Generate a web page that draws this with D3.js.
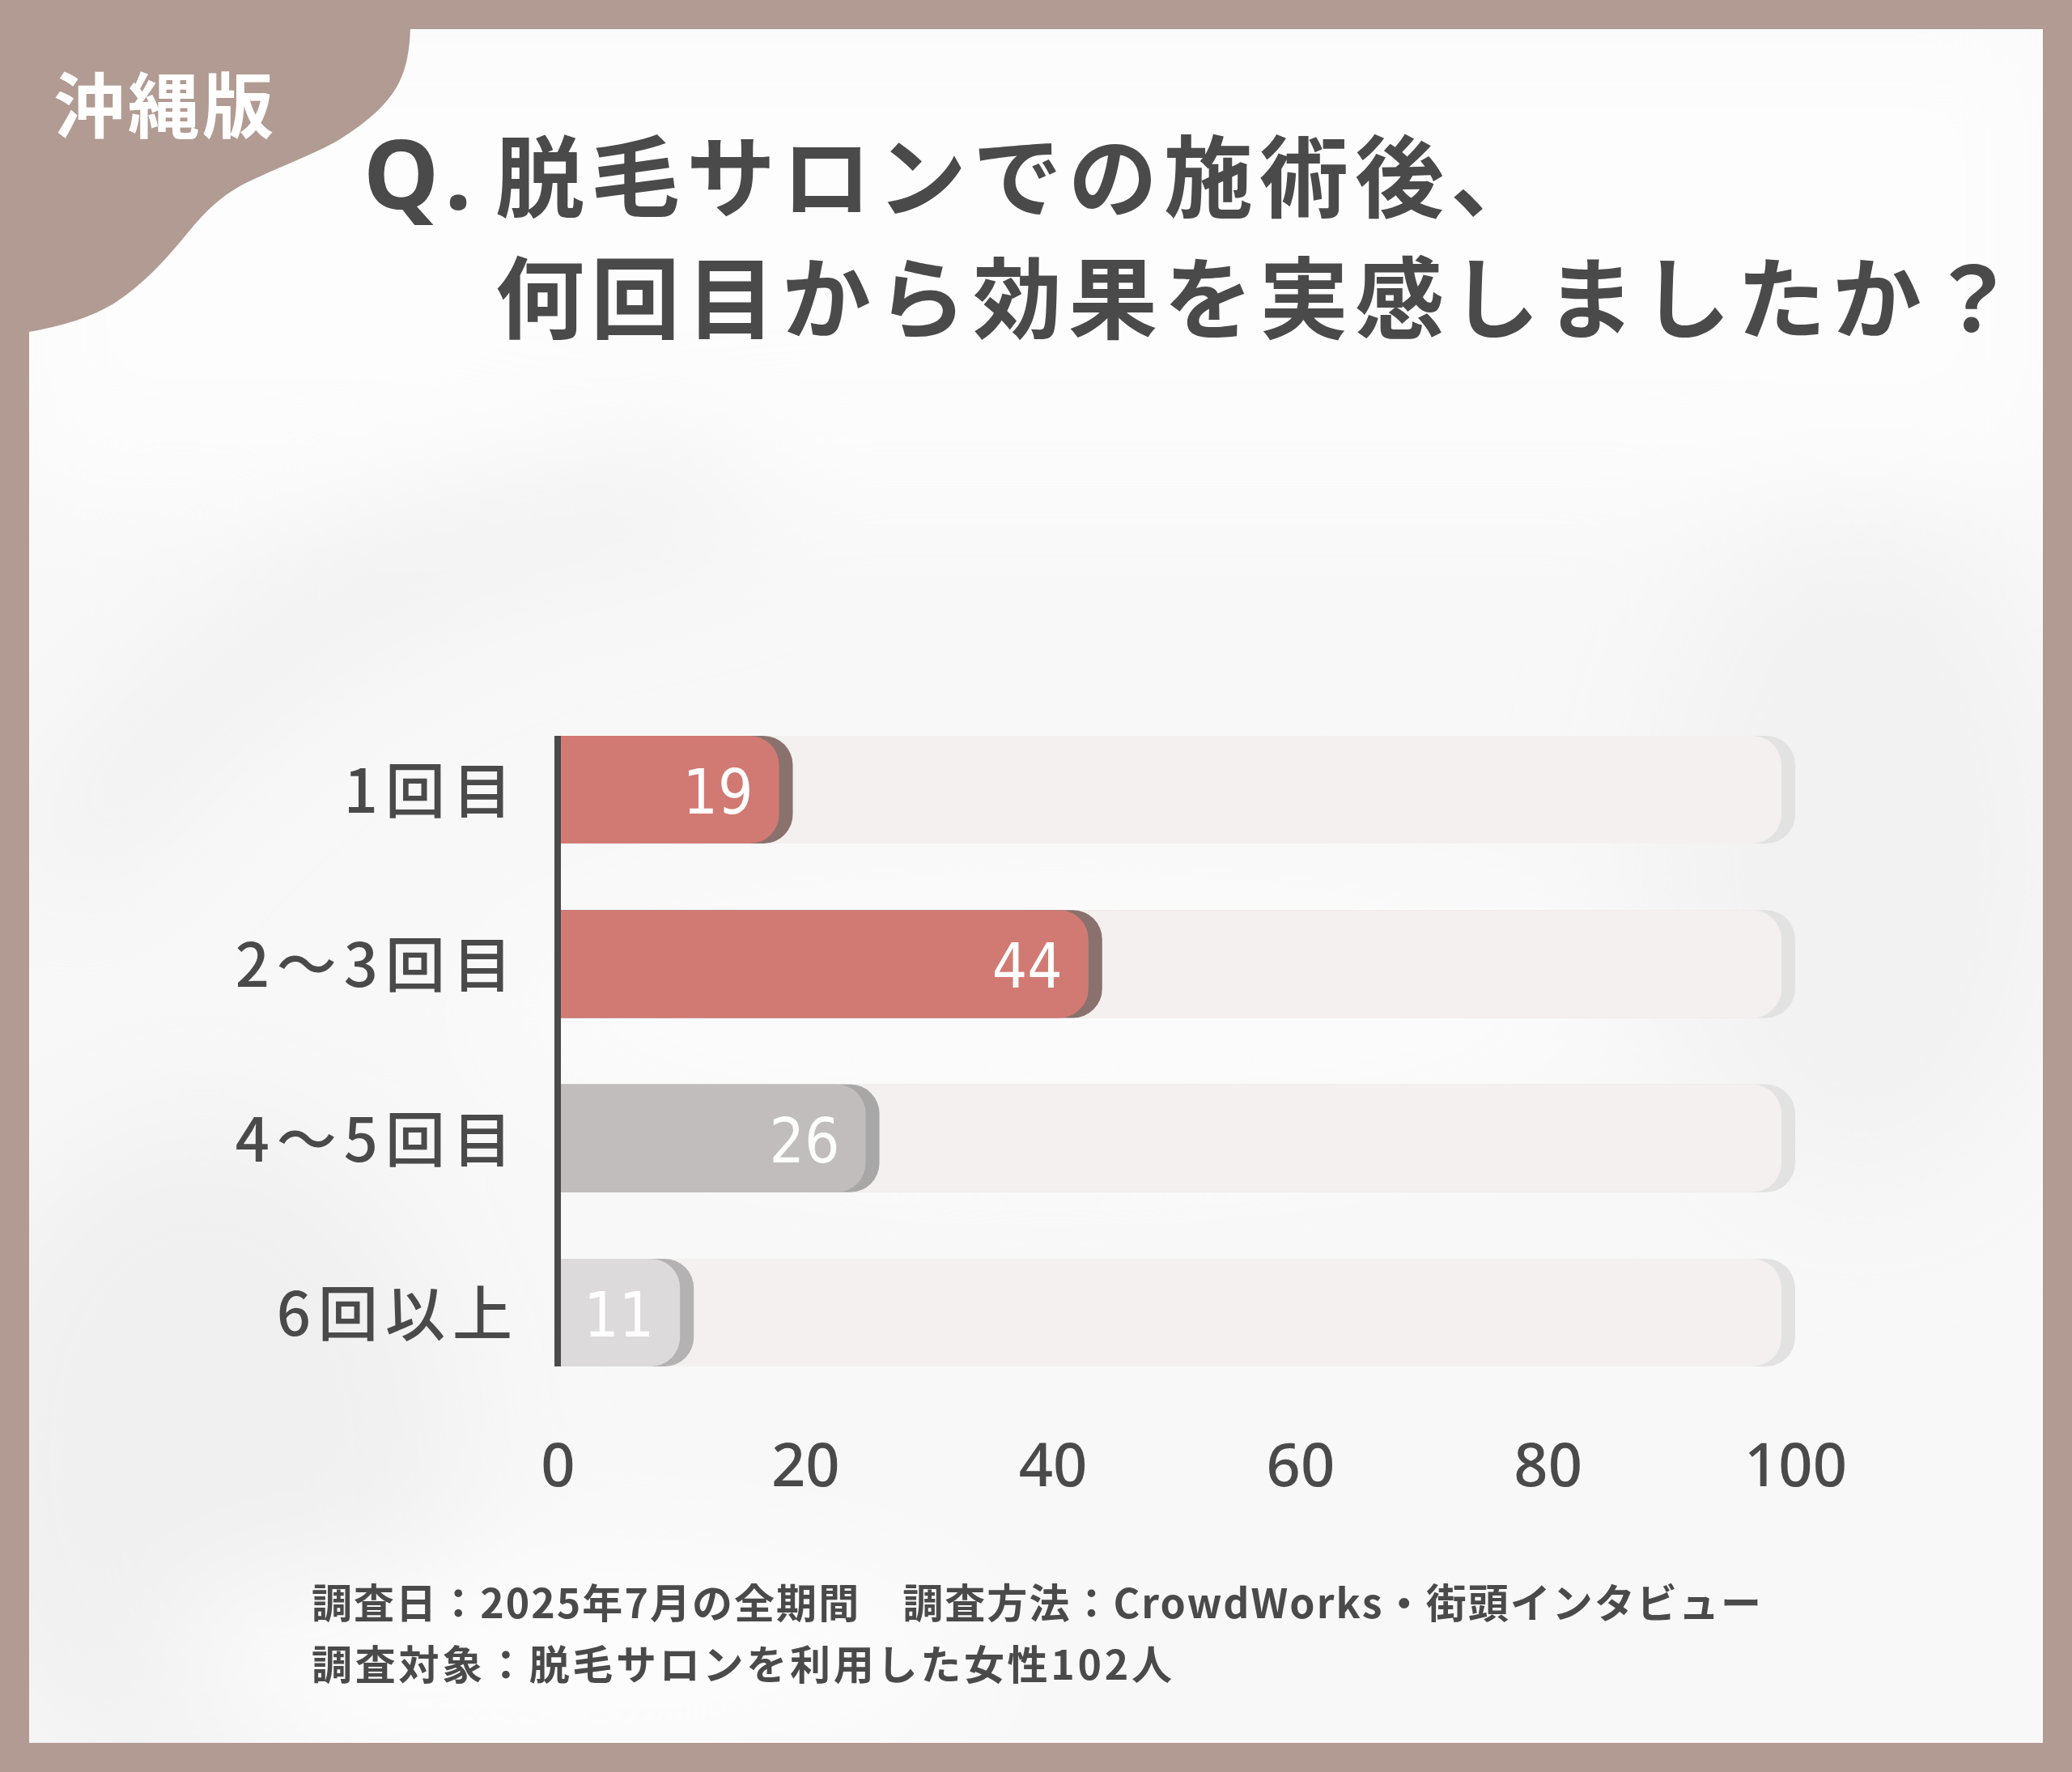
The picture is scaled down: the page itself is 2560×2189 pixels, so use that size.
<!DOCTYPE html>
<html>
<head>
<meta charset="utf-8">
<script src="https://cdn.jsdelivr.net/npm/d3@7/dist/d3.min.js"></script>
<style>
  html, body { margin: 0; padding: 0; background: #b19b92; }
  svg { display: block; }
</style>
</head>
<body>
<svg id="chart" width="2560" height="2189"></svg>
<script>
// ---- data ----
const categories = ["1回目", "2～3回目", "4～5回目", "6回以上"];
const values = [19, 44, 26, 11];
const tickValues = [0, 20, 40, 60, 80, 100];
const badgeText = "沖縄版";
const titleQ = "Q.";
const titleLines = ["脱毛サロンでの施術後、", "何回目から効果を実感しましたか？"];
const footerLines = [
  "調査日：2025年7月の全期間　調査方法：CrowdWorks・街頭インタビュー",
  "調査対象：脱毛サロンを利用した女性102人"
];

// ---- styles ----
const frameColor = "#b19b92";
const ink = "#4a4a4a";
const barFill = ["#d17a73", "#d17a73", "#c0bdbc", "#dcdadb"];
const barShade = ["#8b716e", "#8b716e", "#a8a7a7", "#b4b2b2"];
const trackFill = "#f3f0ef";
const trackShade = "#e2e2e2";
const jp = "'Noto Sans CJK JP', 'Noto Sans', sans-serif";

const W = 2560, H = 2189;
const svg = d3.select("#chart");
const defs = svg.append("defs");
defs.append("filter").attr("id", "soft").attr("x", "-50%").attr("y", "-50%").attr("width", "200%").attr("height", "200%")
  .append("feGaussianBlur").attr("stdDeviation", 80);

// frame
svg.append("rect").attr("width", W).attr("height", H).attr("fill", frameColor);
// panel
svg.append("rect").attr("x", 36).attr("y", 36).attr("width", 2488).attr("height", 2117).attr("fill", "#f8f8f8");

// soft background shading
const clip = defs.append("clipPath").attr("id", "panelClip");
clip.append("rect").attr("x", 36).attr("y", 36).attr("width", 2488).attr("height", 2117);
const bg = svg.append("g").attr("clip-path", "url(#panelClip)").attr("filter", "url(#soft)");
bg.append("rect").attr("x", 0).attr("y", 0).attr("width", 2560).attr("height", 600).attr("fill", "#fdfdfd");
bg.append("ellipse").attr("cx", 1300).attr("cy", 1250).attr("rx", 700).attr("ry", 180).attr("fill", "#fbfbfb");
bg.append("path").attr("d", "M60,1080 C250,820 500,640 900,600").attr("stroke", "#ebebeb").attr("stroke-width", 80).attr("fill", "none");
bg.append("ellipse").attr("cx", 250).attr("cy", 1800).attr("rx", 320).attr("ry", 420).attr("fill", "#f0f0f0");
bg.append("ellipse").attr("cx", 2300).attr("cy", 1050).attr("rx", 260).attr("ry", 420).attr("fill", "#f2f2f2");
bg.append("ellipse").attr("cx", 700).attr("cy", 2050).attr("rx", 500).attr("ry", 120).attr("fill", "#fdfdfd");

// top-left blob
svg.append("path")
  .attr("d", "M36,36 L507,36 C506,60 503,82 493,102 C480,128 455,150 420,172 C390,190 340,208 300,228 C270,244 250,265 225,296 C200,326 175,352 145,372 C115,392 75,403 36,410 Z")
  .attr("fill", frameColor);

svg.append("text").text(badgeText)
  .attr("x", 66).attr("y", 124).attr("dominant-baseline", "central")
  .attr("font-family", jp).attr("font-weight", 700).attr("font-size", 88)
  .attr("letter-spacing", 4).attr("fill", "#ffffff");

// title
svg.append("text").text(titleQ)
  .attr("x", 449).attr("y", 212).attr("dominant-baseline", "central")
  .attr("font-family", "'Noto Sans', sans-serif").attr("font-weight", 700).attr("font-size", 118)
  .attr("letter-spacing", 12).attr("fill", ink);
svg.selectAll("text.title").data(titleLines).join("text").attr("class", "title")
  .text(d => d)
  .attr("x", 612).attr("y", (d, i) => i === 0 ? 212 : 362).attr("dominant-baseline", "central")
  .attr("font-family", jp).attr("font-weight", 700).attr("font-size", 110)
  .attr("letter-spacing", 8).attr("fill", ink);

// ---- chart ----
const x = d3.scaleLinear().domain([0, 100]).range([689, 2218]);
const y = d3.scaleBand().domain(categories).range([909, 1688]).paddingInner(0.382).paddingOuter(0);
const shade = 17, r = 36, axisW = 8;

function roundRight(x0, y0, x1, h, rr) {
  const p = d3.path();
  p.moveTo(x0, y0);
  p.lineTo(x1 - rr, y0);
  p.arcTo(x1, y0, x1, y0 + rr, rr);
  p.lineTo(x1, y0 + h - rr);
  p.arcTo(x1, y0 + h, x1 - rr, y0 + h, rr);
  p.lineTo(x0, y0 + h);
  p.closePath();
  return p.toString();
}

const rows = categories.map((c, i) => ({ c, v: values[i], i }));
const g = svg.append("g");

// background tracks
g.selectAll("path.trackShade").data(rows).join("path").attr("class", "trackShade")
  .attr("d", d => roundRight(x(0), y(d.c), x(100), y.bandwidth(), r)).attr("fill", trackShade);
g.selectAll("path.track").data(rows).join("path").attr("class", "track")
  .attr("d", d => roundRight(x(0), y(d.c), x(100) - shade, y.bandwidth(), r)).attr("fill", trackFill);

// bars
g.selectAll("path.barShade").data(rows).join("path").attr("class", "barShade")
  .attr("d", d => roundRight(x(0), y(d.c), x(d.v), y.bandwidth(), r)).attr("fill", d => barShade[d.i]);
g.selectAll("path.bar").data(rows).join("path").attr("class", "bar")
  .attr("d", d => roundRight(x(0), y(d.c), x(d.v) - shade, y.bandwidth(), r)).attr("fill", d => barFill[d.i]);

// value labels
g.selectAll("text.val").data(rows).join("text").attr("class", "val")
  .text(d => d.v)
  .attr("x", d => x(d.v) - shade - 32).attr("y", d => y(d.c) + y.bandwidth() / 2 + 3)
  .attr("text-anchor", "end").attr("dominant-baseline", "central")
  .attr("font-family", "'Liberation Sans Narrow', 'DejaVu Sans Condensed', sans-serif")
  .attr("font-size", 76).attr("fill", "#ffffff");

// axis line
g.append("rect").attr("x", x(0) - axisW / 2).attr("y", y.range()[0]).attr("width", axisW)
  .attr("height", y.range()[1] - y.range()[0]).attr("fill", ink);

// category labels
g.selectAll("text.cat").data(rows).join("text").attr("class", "cat")
  .text(d => d.c)
  .attr("x", 642).attr("y", d => y(d.c) + y.bandwidth() / 2 - 4)
  .attr("text-anchor", "end").attr("dominant-baseline", "central")
  .attr("font-family", jp).attr("font-weight", 500).attr("font-size", 74)
  .attr("letter-spacing", 9).attr("fill", ink);

// x axis tick labels
const xAxis = d3.axisBottom(x).tickValues(tickValues).tickSize(0).tickPadding(0);
const ax = svg.append("g").attr("transform", "translate(0,1807)").call(xAxis);
ax.select(".domain").remove();
ax.selectAll("text")
  .attr("y", 0).attr("dy", null).attr("dominant-baseline", "central")
  .attr("font-family", "'Noto Sans', sans-serif").attr("font-weight", 500).attr("font-size", 74)
  .attr("fill", ink);

// footer
const footLens = [1791, 1063];
svg.selectAll("text.foot").data(footerLines).join("text").attr("class", "foot")
  .text(d => d)
  .attr("x", 385).attr("y", (d, i) => i === 0 ? 1977 : 2053).attr("dominant-baseline", "central")
  .attr("font-family", jp).attr("font-weight", 700).attr("font-size", 50)
  .attr("textLength", (d, i) => footLens[i]).attr("lengthAdjust", "spacing")
  .attr("fill", ink);
</script>
</body>
</html>
